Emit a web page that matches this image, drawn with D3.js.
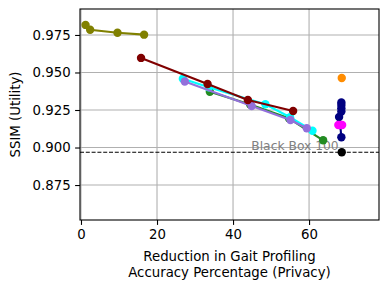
<!DOCTYPE html>
<html>
<head>
<meta charset="utf-8">
<script src="https://cdn.jsdelivr.net/npm/d3@7"></script>
<style>
  body { margin: 0; background: #fff; }
  svg { font-family: "DejaVu Sans", sans-serif; }
</style>
</head>
<body>
<svg width="388" height="289"></svg>
<script>
// values: [privacy reduction %, ssim]
var oliveSeries = [[1.2, 0.9817], [2.4, 0.9785], [9.6, 0.9765], [16.6, 0.9752]];
var greenSeries = [[33.9, 0.9372], [44.5, 0.9287], [54.7, 0.9195], [63.7, 0.9048]];
var cyanSeries = [[26.8, 0.9458], [33.6, 0.9402], [48.5, 0.9288], [55.0, 0.9202], [60.9, 0.9112]];
var purpleSeries = [[27.3, 0.9440], [44.9, 0.9277], [55.1, 0.9183], [59.4, 0.9128]];
var redSeries = [[15.8, 0.9597], [33.3, 0.9423], [43.9, 0.9317], [55.8, 0.9243]];
var navySeries = [[68.5, 0.9300], [68.5, 0.9283], [68.5, 0.9262], [68.5, 0.9240], [67.9, 0.9203], [68.2, 0.9150], [68.5, 0.9068]];
var magentaPoints = [[67.7, 0.9150], [68.2, 0.9150], [68.7, 0.9150]];
var orangePoints = [[68.6, 0.9463]];
var blackBox = [[68.6, 0.8968]];
var blackBoxLabel = "Black Box 100";

var xTicks = [0, 20, 40, 60];
var yTicks = [0.875, 0.900, 0.925, 0.950, 0.975];

var svg = d3.select("svg"),
    margin = {top: 9, right: 9, bottom: 69, left: 80},
    width = +svg.attr("width") - margin.left - margin.right,
    height = +svg.attr("height") - margin.top - margin.bottom;

var g = svg.append("g").attr("transform", "translate(" + margin.left + "," + margin.top + ")");

var x = d3.scaleLinear().domain([-0.26, 78.4]).range([0, width]);
var y = d3.scaleLinear().domain([0.8517, 0.9923]).range([height, 0]);

// grid first so it sits under the lines
g.append("g")
    .selectAll("line")
    .data(xTicks)
    .enter().append("line")
      .attr("x1", function(d) { return x(d); })
      .attr("x2", function(d) { return x(d); })
      .attr("y1", 0)
      .attr("y2", height)
      .attr("stroke", "#b0b0b0")
      .attr("stroke-width", 1.1);

g.append("g")
    .selectAll("line")
    .data(yTicks)
    .enter().append("line")
      .attr("x1", 0)
      .attr("x2", width)
      .attr("y1", function(d) { return y(d); })
      .attr("y2", function(d) { return y(d); })
      .attr("stroke", "#b0b0b0")
      .attr("stroke-width", 1.1);

// the black box reference line
g.append("line")
    .attr("x1", 0)
    .attr("x2", width)
    .attr("y1", y(blackBox[0][1]))
    .attr("y2", y(blackBox[0][1]))
    .attr("stroke", "#000")
    .attr("stroke-width", 1.1)
    .attr("stroke-dasharray", "4,1.8");

g.append("text")
    .attr("x", x(44.8))
    .attr("y", y(blackBox[0][1]) - 2)
    .attr("font-size", 12.3)
    .attr("fill", "#808080")
    .text(blackBoxLabel);

var line = d3.line()
    .x(function(d) { return x(d[0]); })
    .y(function(d) { return y(d[1]); });

function drawSeries(data, color, withLine) {
  var s = g.append("g");
  if (withLine) {
    s.append("path")
        .datum(data)
        .attr("d", line)
        .attr("fill", "none")
        .attr("stroke", color)
        .attr("stroke-width", 2.1);
  }
  s.selectAll("circle")
      .data(data)
      .enter().append("circle")
        .attr("cx", function(d) { return x(d[0]); })
        .attr("cy", function(d) { return y(d[1]); })
        .attr("r", 4.2)
        .attr("fill", color);
}

drawSeries(oliveSeries, "#808000", true);
drawSeries(greenSeries, "#228b22", true);
drawSeries(cyanSeries, "#00ffff", true);
drawSeries(purpleSeries, "#9370db", true);
drawSeries(redSeries, "#800000", true);
drawSeries(navySeries, "#000080", true);
drawSeries(magentaPoints, "#ff00ff", false);
drawSeries(orangePoints, "#ff8c00", false);
drawSeries(blackBox, "#000000", false);

// axes
var xAxis = g.append("g")
    .attr("transform", "translate(0," + height + ")")
    .call(d3.axisBottom(x).tickValues(xTicks).tickFormat(d3.format("d")).tickSize(4.9).tickPadding(4.5));

var yAxis = g.append("g")
    .call(d3.axisLeft(y).tickValues(yTicks).tickFormat(d3.format(".3f")).tickSize(4.9).tickPadding(4.5));

[xAxis, yAxis].forEach(function(a) {
  a.selectAll("text").attr("font-size", 13.3).attr("fill", "#000").attr("font-family", "DejaVu Sans");
  a.selectAll("line").attr("stroke", "#000").attr("stroke-width", 1.1);
  a.select(".domain").remove();
});

// frame round the plot
g.append("rect")
    .attr("width", width)
    .attr("height", height)
    .attr("fill", "none")
    .attr("stroke", "#000")
    .attr("stroke-width", 1.1);

// labels
svg.append("text")
    .attr("text-anchor", "middle")
    .attr("font-size", 13.3)
    .attr("transform", "translate(20," + (margin.top + height / 2) + ") rotate(-90)")
    .text("SSIM (Utility)");

var xLabel = svg.append("text")
    .attr("text-anchor", "middle")
    .attr("font-size", 13.3);
xLabel.append("tspan")
    .attr("x", margin.left + width / 2)
    .attr("y", 261)
    .text("Reduction in Gait Profiling");
xLabel.append("tspan")
    .attr("x", margin.left + width / 2)
    .attr("y", 277)
    .text("Accuracy Percentage (Privacy)");
</script>
</body>
</html>
